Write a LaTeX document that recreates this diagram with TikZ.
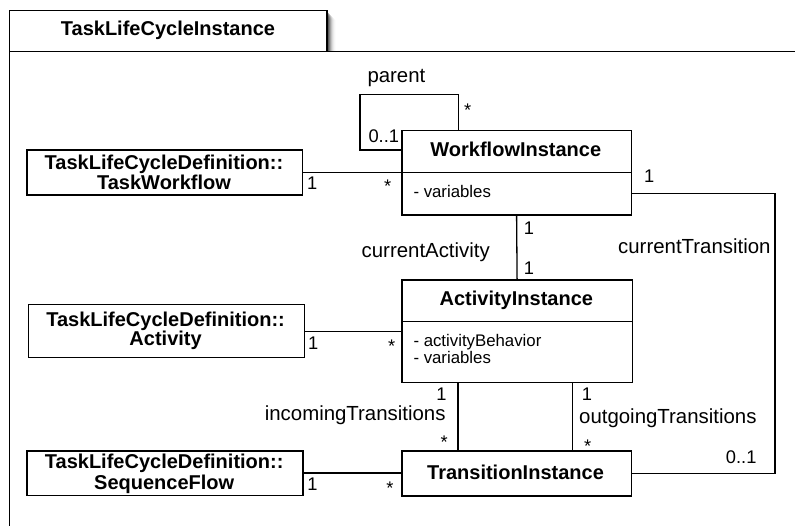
\documentclass[tikz,border=0pt]{standalone}
\usepackage{fontspec}
\setmainfont{Liberation Sans}
\begin{document}
\begin{tikzpicture}[x=1pt,y=-1pt,
  frameline/.style={line width=1.5pt},
  boxline/.style={draw, line width=1.5pt, rectangle, inner sep=0pt, anchor=north west},
  link/.style={line width=1.3pt},
  cname/.style={inner sep=0pt, anchor=base, font=\fontsize{20}{22}\selectfont\bfseries},
  attr/.style={inner sep=0pt, anchor=base west, font=\fontsize{16.8}{18}\selectfont},
  role/.style={inner sep=0pt, font=\fontsize{20.4}{22}\selectfont},
  mult/.style={inner sep=0pt, anchor=base, font=\fontsize{18.3}{20}\selectfont},
]
\useasboundingbox (0,0) rectangle (795,526);
\clip (0,0) rectangle (795,526);

% package frame: tab with a soft shadow, then the body
\foreach \d/\o in {1/0.30,2/0.22,3/0.16,4/0.11,5/0.07,6/0.045,7/0.025,8/0.012}
  \fill[black, opacity=\o] (327,10.7+\d+1) rectangle (327+\d+0.8,51.7);
\draw[frameline, fill=white] (9.5,10.7) rectangle (327,51.7);
\draw[frameline] (9.5,540) |- (810,51.7);
\node[cname] (pkg) at (168,36) {TaskLifeCycleInstance};

% WorkflowInstance
\node[boxline, minimum width=229.7pt, minimum height=41.7pt] (wfh) at (401,130) {};
\node[boxline, minimum width=229.7pt, minimum height=42.6pt] (wfa) at (401,171.7) {};
\node[cname] (wfn) at (515.8,156.7) {WorkflowInstance};
\node[attr] (wfv) at (413.3,197.3) {- variables};

% ActivityInstance
\node[boxline, minimum width=230.7pt, minimum height=41.4pt] (aih) at (401,279.3) {};
\node[boxline, minimum width=230.7pt, minimum height=61pt] (aia) at (401,320.7) {};
\node[cname] (ain) at (516.3,306) {ActivityInstance};
\node[attr] (aib) at (413.3,346.7) {- activityBehavior};
\node[attr] (aiv) at (413.3,364) {- variables};

% TransitionInstance
\node[boxline, minimum width=229.7pt, minimum height=44.7pt] (ti) at (401,450.3) {};
\node[cname] (tin) at (515.5,479.3) {TransitionInstance};

% definition classes on the left
\node[boxline, minimum width=275.7pt, minimum height=45pt] (tw) at (26,149.3) {};
\node[cname] (tw1) at (164,169.3) {TaskLifeCycleDefinition::};
\node[cname] (tw2) at (164,190) {TaskWorkflow};

\node[boxline, minimum width=275.8pt, minimum height=53pt] (act) at (27.7,304) {};
\node[cname] (act1) at (165.6,326.7) {TaskLifeCycleDefinition::};
\node[cname] (act2) at (165.6,346) {Activity};

\node[boxline, minimum width=275.7pt, minimum height=44.7pt] (sf) at (26.3,450) {};
\node[cname] (sf1) at (164.2,468.3) {TaskLifeCycleDefinition::};
\node[cname] (sf2) at (164.2,489.3) {SequenceFlow};

% connector corners
\coordinate (loopA) at (458.3,94.3);
\coordinate (loopB) at (360,150);
\coordinate (ctr) at (775,0);
\coordinate (inL) at (458,0);
\coordinate (outL) at (572.3,0);

% associations
\draw[link] (loopA |- wfh.north) -- (loopA) -| (loopB) -- (loopB -| wfh.west);
\draw[link] (tw.east) -- (tw.east -| wfh.west);
\draw[link] (wfa.south) -- (aih.north);
\draw[link] (wfa.east) -- (wfa.east -| ctr) -- (ti.east -| ctr) -- (ti.east);
\draw[link] (act.east) -- (act.east -| aia.west);
\draw[link] (aia.south -| inL) -- (ti.north -| inL);
\draw[link] (aia.south -| outL) -- (ti.north -| outL);
\draw[link] (sf.east) -- (sf.east -| ti.west);

% role names
\node[role, anchor=base west] (rparent) at (367.3,83) {parent};
\node[role, anchor=base east] (rca) at (490,257.7) {currentActivity};
\node[role, anchor=base east] (rct) at (770.7,253.3) {currentTransition};
\node[role, anchor=base east] (rin) at (445.7,420.7) {incomingTransitions};
\node[role, anchor=base west] (rout) at (579,423.3) {outgoingTransitions};

% multiplicities
\node[mult] (m1) at (467.7,117) {*};
\node[mult, anchor=base west] (m2) at (368.3,142.7) {0..1};
\node[mult] (m3) at (312.3,190) {1};
\node[mult] (m4) at (387.7,193) {*};
\node[mult] (m5) at (529,235) {1};
\node[mult] (m6) at (529,275) {1};
\node[mult] (m7) at (649.3,182.7) {1};
\node[mult] (m8) at (313.3,349.3) {1};
\node[mult] (m9) at (391.7,352.6) {*};
\node[mult, anchor=base east] (m10) at (446.7,400) {1};
\node[mult, anchor=base west] (m11) at (581.7,400) {1};
\node[mult] (m12) at (444.3,448.6) {*};
\node[mult] (m13) at (587.7,452) {*};
\node[mult, anchor=base east] (m14) at (756.7,463.3) {0..1};
\node[mult] (m15) at (312.5,490) {1};
\node[mult] (m16) at (390,494.3) {*};
\end{tikzpicture}
\end{document}
